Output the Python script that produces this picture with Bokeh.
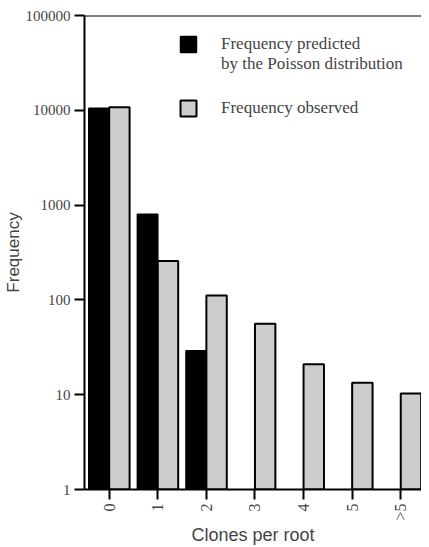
from bokeh.plotting import figure
from bokeh.models import FixedTicker, PrintfTickFormatter, Span, Legend, LegendItem
from bokeh.embed import file_html
from bokeh.resources import INLINE

categories = ["0", "1", "2", "3", "4", "5", ">5"]
predicted = [10500, 800, 29]
observed = [10800, 257, 111, 56, 21, 13.4, 10.3]
y_ticks = [1, 10, 100, 1000, 10000, 100000]

x_pred = [i - 0.21 for i in range(len(predicted))]
x_obs = [i + 0.21 for i in range(len(observed))]

p = figure(width=421, height=547, y_axis_type="log",
           x_range=(-0.508, 6.427), y_range=(1, 100000),
           output_backend="svg", toolbar_location=None,
           min_border_left=80, min_border_right=0,
           min_border_top=15, min_border_bottom=57)
p.background_fill_color = "white"
p.border_fill_color = "white"
p.outline_line_color = None
p.grid.visible = False

r_pred = p.vbar(x=x_pred, top=predicted, bottom=1, width=0.42,
                fill_color="black", line_color="black", line_width=1.5)
r_obs = p.vbar(x=x_obs, top=observed, bottom=1, width=0.42,
               fill_color="#cdcdcd", line_color="black", line_width=2)

p.add_layout(Span(location=100000, dimension="width",
                  line_color="black", line_width=2))

# y axis
p.yaxis.ticker = FixedTicker(ticks=y_ticks)
p.yaxis.formatter = PrintfTickFormatter(format="%d")
p.yaxis.minor_tick_line_color = None
p.yaxis.major_tick_out = 10
p.yaxis.major_tick_in = 0
p.yaxis.major_tick_line_width = 2
p.yaxis.axis_line_width = 2
p.yaxis.major_label_text_font = "Liberation Serif"
p.yaxis.major_label_text_font_size = "15px"
p.yaxis.major_label_standoff = 4
p.yaxis.axis_label = "Frequency"
p.yaxis.axis_label_text_font = "Liberation Sans"
p.yaxis.axis_label_text_font_style = "normal"
p.yaxis.axis_label_text_font_size = "17px"
p.yaxis.axis_label_standoff = 0

# x axis
p.xaxis.ticker = FixedTicker(ticks=list(range(len(categories))))
p.xaxis.major_label_overrides = {i: c for i, c in enumerate(categories)}
p.xaxis.minor_tick_line_color = None
p.xaxis.major_tick_out = 10
p.xaxis.major_tick_in = 0
p.xaxis.major_tick_line_width = 2
p.xaxis.axis_line_width = 2
p.xaxis.major_label_orientation = 1.5708
p.xaxis.major_label_text_font = "Liberation Serif"
p.xaxis.major_label_text_font_size = "16px"
p.xaxis.major_label_standoff = 4
p.xaxis.axis_label = "Clones per root"
p.xaxis.axis_label_text_font = "Liberation Sans"
p.xaxis.axis_label_text_font_style = "normal"
p.xaxis.axis_label_text_font_size = "18px"
p.xaxis.axis_label_standoff = 1

legend = Legend(items=[
    LegendItem(label="\nFrequency predicted\nby the Poisson distribution", renderers=[r_pred]),
    LegendItem(label="Frequency observed", renderers=[r_obs]),
], location=(94, 371))
legend.border_line_color = None
legend.background_fill_alpha = 0
legend.padding = 0
legend.margin = 0
legend.spacing = 24
legend.glyph_width = 20
legend.glyph_height = 20
legend.label_standoff = 23
legend.label_text_font = "Liberation Serif"
legend.label_text_font_size = "17px"
p.add_layout(legend, "center")

open("out.html", "w").write(file_html(p, INLINE))
